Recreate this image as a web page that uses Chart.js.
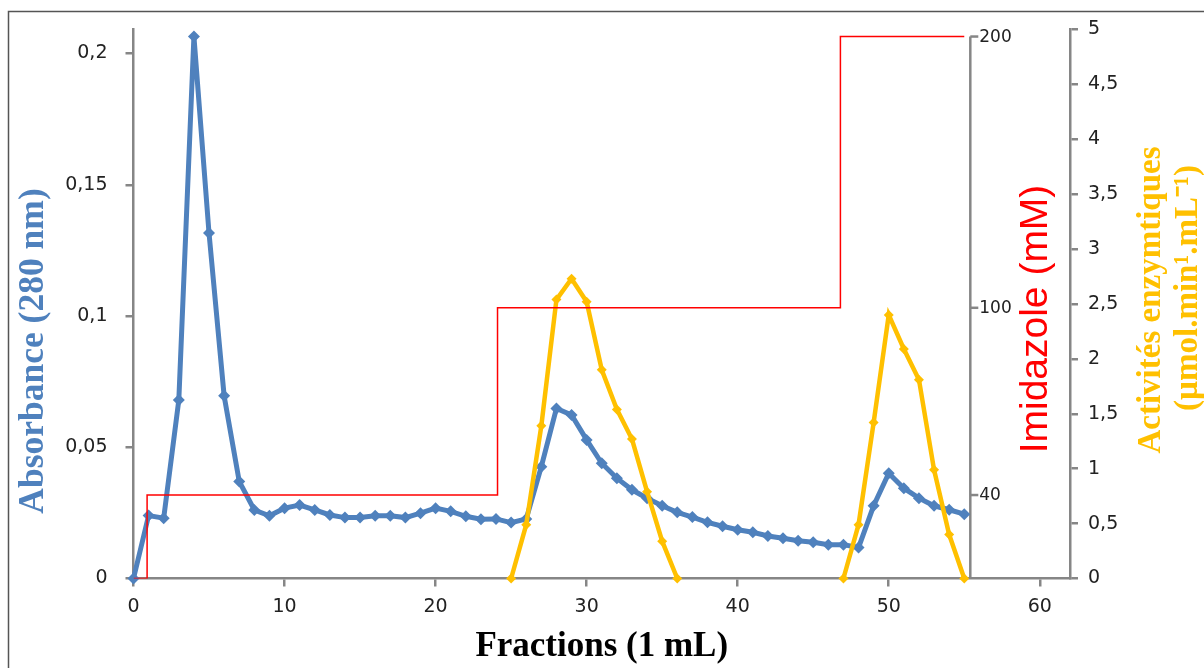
<!DOCTYPE html>
<html>
<head>
<meta charset="utf-8">
<script src="https://cdn.jsdelivr.net/npm/chart.js@4.4.1/dist/chart.umd.min.js"></script>
<style>
  html, body { margin: 0; padding: 0; background: #fff; }
  canvas { display: block; }
</style>
</head>
<body>
<canvas id="chart" width="1204" height="668"></canvas>
<script>
// fractions collected (1 mL each)
var fractions = [0, 1, 2, 3, 4, 5, 6, 7, 8, 9, 10, 11, 12, 13, 14, 15, 16, 17, 18, 19,
	20, 21, 22, 23, 24, 25, 26, 27, 28, 29, 30, 31, 32, 33, 34, 35, 36, 37, 38, 39,
	40, 41, 42, 43, 44, 45, 46, 47, 48, 49, 50, 51, 52, 53, 54, 55];

// absorbance at 280 nm
var absorbance = [0, 0.0240, 0.0230, 0.0680, 0.2065, 0.1316, 0.0696, 0.0370, 0.0261, 0.0239,
	0.0268, 0.0280, 0.0261, 0.0242, 0.0232, 0.0232, 0.0239, 0.0239, 0.0232, 0.0249,
	0.0268, 0.0256, 0.0237, 0.0226, 0.0227, 0.0213, 0.0227, 0.0426, 0.0648, 0.0623,
	0.0528, 0.0439, 0.0382, 0.0338, 0.0306, 0.0277, 0.0252, 0.0234, 0.0214, 0.0199,
	0.0186, 0.0176, 0.0162, 0.0153, 0.0144, 0.0138, 0.0129, 0.0129, 0.0118, 0.0277,
	0.0401, 0.0344, 0.0306, 0.0277, 0.0262, 0.0245];

// enzyme activity (only measured around the two peaks)
var activity = [null, null, null, null, null, null, null, null, null, null,
	null, null, null, null, null, null, null, null, null, null,
	null, null, null, null, null, 0, 0.49, 1.39, 2.54, 2.73,
	2.52, 1.90, 1.54, 1.27, 0.79, 0.34, 0, null, null, null,
	null, null, null, null, null, null, null, 0, 0.49, 1.42,
	2.40, 2.09, 1.81, 0.99, 0.40, 0];

// imidazole step gradient
var imidFrac = [0, 0.9, 24.1, 46.8, 55];
var imidConc = [0, 40, 100, 200, 200];

var xTicks = [0, 10, 20, 30, 40, 50, 60];
var absTicks = [0, 0.05, 0.1, 0.15, 0.2];
var actTicks = [0, 0.5, 1, 1.5, 2, 2.5, 3, 3.5, 4, 4.5, 5];
var imidTicks = [40, 100, 200];

var BLUE = '#4F81BD';
var GOLD = '#FFC000';
var RED = '#FF0000';
var AXIS = '#868686';

// the imidazole axis of the original is not linear: where each value sits (share of plot height)
var imidKnots = [[0, 0], [40, 0.152], [100, 0.493], [200, 0.987]];

class ImidScale extends Chart.LinearScale {
	getPixelForValue(value) {
		var k = imidKnots;
		var dec = 0;
		for (var i = 1; i < k.length; i++) {
			if (value <= k[i][0] || i == k.length - 1) {
				var t = (value - k[i - 1][0]) / (k[i][0] - k[i - 1][0]);
				dec = k[i - 1][1] + t * (k[i][1] - k[i - 1][1]);
				break;
			}
		}
		return this.getPixelForDecimal(dec);
	}
}
ImidScale.id = 'imidscale';
ImidScale.defaults = Chart.LinearScale.defaults;
Chart.register(ImidScale);

function comma(v) { return String(v).replace('.', ','); }
function setTicks(list) { return function(s) { s.ticks = list.map(v => ({ value: v })); }; }

function vtext(ctx, text, x, y, font, color) {
	ctx.save();
	ctx.translate(x, y);
	ctx.rotate(-Math.PI / 2);
	ctx.font = font;
	ctx.fillStyle = color;
	ctx.textAlign = 'center';
	ctx.textBaseline = 'middle';
	ctx.fillText(text, 0, 0);
	ctx.restore();
}

var extras = {
	id: 'extras',
	beforeDatasetsDraw: function(chart) {
		var ctx = chart.ctx, sx = chart.scales.x, si = chart.scales.imid;
		ctx.save();
		// frame of the picture
		ctx.strokeStyle = '#555';
		ctx.lineWidth = 1.5;
		ctx.strokeRect(8.5, 11.5, 1400, 900);
		// imidazole axis standing inside the plot
		var ax = sx.getPixelForValue(55.4);
		ctx.strokeStyle = AXIS;
		ctx.lineWidth = 2.5;
		ctx.beginPath();
		ctx.moveTo(ax, si.getPixelForValue(0));
		ctx.lineTo(ax, si.getPixelForValue(200));
		ctx.stroke();
		ctx.font = '17px "DejaVu Sans"';
		ctx.fillStyle = '#222';
		ctx.textAlign = 'left';
		ctx.textBaseline = 'middle';
		imidTicks.forEach(function(v) {
			var y = si.getPixelForValue(v);
			ctx.beginPath();
			ctx.moveTo(ax, y);
			ctx.lineTo(ax + 8, y);
			ctx.stroke();
			ctx.fillText(String(v), ax + 9, y + 1);
		});
		ctx.restore();
	},
	afterDraw: function(chart) {
		var ctx = chart.ctx;
		vtext(ctx, 'Absorbance (280 nm)', 34, 351, 'bold 35.5px "Liberation Serif"', BLUE);
		vtext(ctx, 'Imidazole (mM)', 1036, 319, '39px "Liberation Sans"', RED);
		vtext(ctx, 'Activités enzymtiques', 1151, 300, 'bold 33px "Liberation Serif"', GOLD);
		vtext(ctx, '(µmol.min¹.mL⁻¹)', 1188, 288, 'bold 33px "Liberation Serif"', GOLD);
	}
};

var tickFont = { family: 'DejaVu Sans', size: 19 };

var ctx = document.getElementById('chart').getContext('2d');
var chart = new Chart(ctx, {
	type: 'line',
	data: {
		datasets: [
			{
				label: 'Imidazole',
				data: imidFrac.map((f, i) => ({ x: f, y: imidConc[i] })),
				yAxisID: 'imid',
				borderColor: RED,
				borderWidth: 1.5,
				pointRadius: 0,
				stepped: 'before'
			},
			{
				label: 'Activité',
				data: fractions.map((f, i) => ({ x: f, y: activity[i] })),
				yAxisID: 'act',
				borderColor: GOLD,
				backgroundColor: GOLD,
				borderWidth: 4.5,
				pointStyle: 'rectRot',
				pointRadius: 5,
				pointBorderWidth: 0,
				clip: false
			},
			{
				label: 'Absorbance',
				data: fractions.map((f, i) => ({ x: f, y: absorbance[i] })),
				yAxisID: 'y',
				borderColor: BLUE,
				backgroundColor: BLUE,
				borderWidth: 5,
				pointStyle: 'rectRot',
				pointRadius: 6,
				pointBorderWidth: 0,
				clip: false
			}
		]
	},
	options: {
		responsive: false,
		animation: false,
		layout: { padding: { top: 28, left: 0, right: 0, bottom: 0 } },
		plugins: { legend: { display: false }, tooltip: { enabled: false } },
		scales: {
			x: {
				type: 'linear',
				min: 0,
				max: 62,
				afterBuildTicks: setTicks(xTicks),
				afterFit: function(s) { s.height = 89.5; },
				grid: { drawOnChartArea: false, tickLength: 8, color: AXIS, lineWidth: 2.5 },
				border: { color: AXIS, width: 2.5 },
				ticks: { font: tickFont, color: '#222', padding: 9, maxRotation: 0 },
				title: {
					display: true,
					text: 'Fractions (1 mL)',
					color: '#000',
					font: { family: 'Liberation Serif', size: 35, weight: 'bold' },
					padding: { top: 0, bottom: 0 }
				}
			},
			y: {
				position: 'left',
				min: 0,
				max: 0.2092,
				afterBuildTicks: setTicks(absTicks),
				afterFit: function(s) { s.width = 133.5; },
				grid: { drawOnChartArea: false, tickLength: 8, color: AXIS, lineWidth: 2.5 },
				border: { color: AXIS, width: 2.5 },
				ticks: { font: tickFont, color: '#222', padding: 18, callback: comma }
			},
			act: {
				position: 'right',
				min: 0,
				max: 5,
				afterBuildTicks: setTicks(actTicks),
				afterFit: function(s) { s.width = 134; },
				grid: { drawOnChartArea: false, tickLength: 8, color: AXIS, lineWidth: 2.5 },
				border: { color: AXIS, width: 2.5 },
				ticks: { font: tickFont, color: '#222', padding: 10, callback: comma }
			},
			imid: {
				type: 'imidscale',
				display: false,
				min: 0,
				max: 200
			}
		}
	},
	plugins: [extras]
});
</script>
</body>
</html>
